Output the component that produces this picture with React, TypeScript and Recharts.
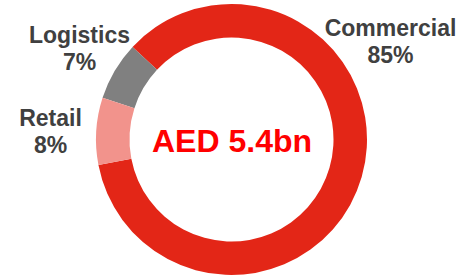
import { Cell, Pie, PieChart } from 'recharts'

const segments = ['Commercial', 'Logistics', 'Retail']
const shares = [85, 7, 8]
const colors = ['#e32617', '#808080', '#f2938c']
const totalLabel = 'AED 5.4bn'

const data = segments.map((name, i) => ({ name, value: shares[i] }))

// label anchor offsets from the pie centre (label boxes sit outside the ring)
const labelOffset: Record<string, [number, number]> = {
  Commercial: [159, -104],
  Logistics: [-152, -97],
  Retail: [-181, -14],
}

function SliceLabel(props: any) {
  const { cx, cy, name, value } = props
  const [dx, dy] = labelOffset[name]
  return (
    <text
      x={cx + dx}
      y={cy + dy}
      textAnchor="middle"
      fill="#404040"
      fontSize={23}
      fontWeight="bold"
      fontFamily="'Liberation Sans', Arial, sans-serif"
    >
      <tspan x={cx + dx}>{name}</tspan>
      <tspan x={cx + dx} dy={27}>{`${value}%`}</tspan>
    </text>
  )
}

function App() {
  return (
    <div style={{ position: 'fixed', left: 0, top: 0, width: 461, height: 276, background: '#fff' }}>
      <PieChart width={461} height={276} margin={{ top: 0, right: 0, bottom: 0, left: 0 }}>
        <Pie
          data={data}
          dataKey="value"
          nameKey="name"
          cx={231.5}
          cy={139.5}
          innerRadius={102}
          outerRadius={135.5}
          startAngle={-169.1}
          endAngle={190.9}
          stroke="none"
          label={SliceLabel}
          labelLine={false}
          isAnimationActive={false}
        >
          {data.map((d, i) => (
            <Cell key={d.name} fill={colors[i]} />
          ))}
        </Pie>
        <text
          x={232}
          y={141}
          textAnchor="middle"
          dominantBaseline="central"
          fill="#ff0000"
          fontSize={32}
          fontWeight="bold"
          fontFamily="'Liberation Sans', Arial, sans-serif"
        >
          {totalLabel}
        </text>
      </PieChart>
    </div>
  )
}

export default App
